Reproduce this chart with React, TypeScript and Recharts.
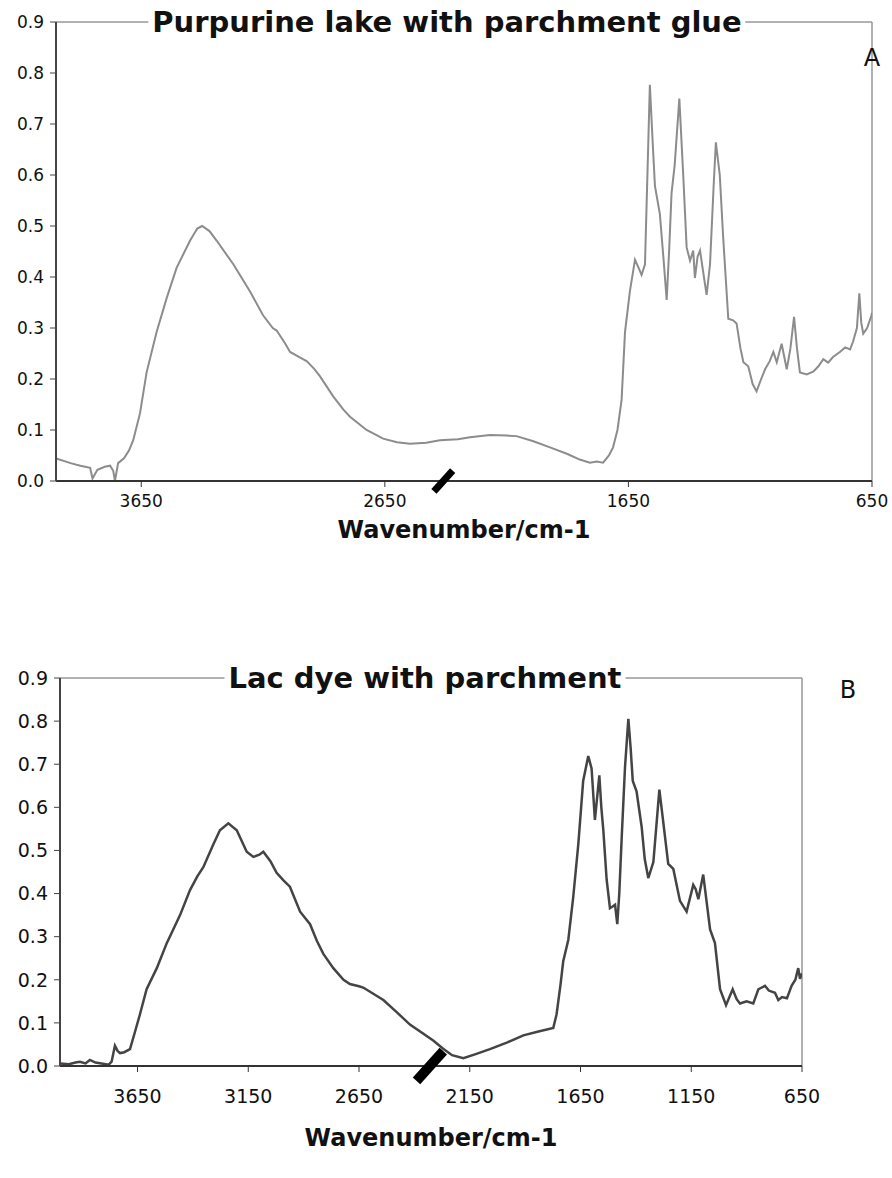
import React from 'react';
import { LineChart, Line, XAxis, YAxis, ReferenceLine, ReferenceDot, Label } from 'recharts';

// ---- Panel A: Purpurine lake with parchment glue ----
const wnA = [4000, 3940, 3900, 3860, 3850, 3830, 3800, 3778, 3765, 3758, 3745, 3720, 3700, 3683, 3655, 3628, 3587, 3546, 3505, 3450, 3420, 3400, 3370, 3340, 3272, 3204, 3150, 3110, 3094, 3060, 3039, 2990, 2971, 2940, 2916, 2862, 2820, 2793, 2725, 2657, 2600, 2547, 2480, 2424, 2350, 2300, 2218, 2150, 2109, 2040, 1972, 1900, 1850, 1808, 1780, 1754, 1730, 1713, 1695, 1678, 1664, 1644, 1623, 1610, 1596, 1582, 1572, 1562, 1550, 1541, 1521, 1505, 1493, 1483, 1473, 1460, 1441, 1425, 1411, 1397, 1384, 1377, 1366, 1356, 1340, 1329, 1315, 1300, 1291, 1275, 1261, 1240, 1220, 1206, 1190, 1178, 1158, 1140, 1124, 1105, 1089, 1070, 1055, 1041, 1021, 1000, 985, 970, 958, 946, 918, 890, 870, 850, 830, 810, 782, 760, 740, 728, 712, 702, 694, 686, 670, 652, 650];
const absA = [0.044, 0.035, 0.03, 0.026, 0.005, 0.022, 0.028, 0.03, 0.02, 0.0, 0.035, 0.045, 0.06, 0.08, 0.133, 0.213, 0.292, 0.358, 0.418, 0.471, 0.495, 0.5, 0.49, 0.471, 0.425, 0.372, 0.325, 0.3, 0.295, 0.27, 0.253, 0.24, 0.235, 0.22, 0.205, 0.166, 0.14, 0.126, 0.1, 0.083, 0.076, 0.073, 0.075, 0.08, 0.082, 0.086, 0.09, 0.089, 0.088, 0.078, 0.066, 0.053, 0.042, 0.036, 0.038, 0.036, 0.05, 0.066, 0.1, 0.159, 0.292, 0.372, 0.434, 0.42, 0.404, 0.425, 0.6, 0.777, 0.66, 0.578, 0.524, 0.43, 0.355, 0.45, 0.564, 0.62, 0.75, 0.6, 0.458, 0.432, 0.452, 0.398, 0.44, 0.452, 0.4, 0.365, 0.425, 0.58, 0.664, 0.6, 0.478, 0.318, 0.315, 0.309, 0.26, 0.233, 0.225, 0.19, 0.176, 0.2, 0.219, 0.235, 0.253, 0.233, 0.269, 0.219, 0.26, 0.322, 0.26, 0.213, 0.209, 0.215, 0.225, 0.239, 0.232, 0.243, 0.253, 0.262, 0.258, 0.273, 0.3, 0.368, 0.31, 0.289, 0.3, 0.325, 0.33];

// ---- Panel B: Lac dye with parchment ----
const wnB = [4000, 3960, 3930, 3910, 3885, 3865, 3840, 3806, 3780, 3767, 3752, 3740, 3729, 3710, 3684, 3661, 3639, 3609, 3563, 3518, 3458, 3413, 3380, 3353, 3308, 3278, 3240, 3202, 3157, 3127, 3100, 3082, 3050, 3022, 2990, 2962, 2916, 2871, 2840, 2811, 2766, 2720, 2691, 2650, 2631, 2540, 2480, 2420, 2315, 2270, 2230, 2179, 2120, 2059, 1980, 1908, 1840, 1773, 1758, 1740, 1728, 1705, 1683, 1660, 1638, 1615, 1600, 1585, 1565, 1556, 1547, 1532, 1517, 1505, 1494, 1484, 1475, 1464, 1449, 1434, 1424, 1414, 1397, 1374, 1360, 1344, 1321, 1294, 1275, 1254, 1231, 1201, 1171, 1141, 1130, 1118, 1096, 1065, 1043, 1020, 993, 963, 945, 930, 900, 870, 847, 817, 800, 772, 757, 740, 718, 697, 680, 667, 659, 650];
const absB = [0.006, 0.004, 0.008, 0.01, 0.006, 0.014, 0.008, 0.005, 0.003, 0.01, 0.047, 0.035, 0.03, 0.032, 0.039, 0.08, 0.12, 0.178, 0.227, 0.285, 0.35, 0.408, 0.44, 0.461, 0.514, 0.547, 0.563, 0.547, 0.497, 0.485, 0.49, 0.497, 0.475, 0.448, 0.43, 0.416, 0.358, 0.329, 0.29, 0.26, 0.227, 0.2, 0.19, 0.185, 0.182, 0.153, 0.125, 0.096, 0.059, 0.04, 0.025, 0.018, 0.028, 0.039, 0.055, 0.071, 0.08, 0.088, 0.12, 0.19, 0.243, 0.293, 0.391, 0.514, 0.661, 0.719, 0.69, 0.571, 0.674, 0.6, 0.547, 0.432, 0.366, 0.37, 0.374, 0.329, 0.4, 0.53, 0.694, 0.805, 0.74, 0.661, 0.637, 0.555, 0.48, 0.436, 0.473, 0.641, 0.56, 0.469, 0.457, 0.383, 0.358, 0.42, 0.41, 0.387, 0.444, 0.317, 0.285, 0.178, 0.141, 0.178, 0.155, 0.145, 0.15, 0.145, 0.178, 0.186, 0.175, 0.17, 0.153, 0.16, 0.157, 0.186, 0.2, 0.227, 0.202, 0.215];

const yTicks = [0, 0.1, 0.2, 0.3, 0.4, 0.5, 0.6, 0.7, 0.8, 0.9];
const xTicksA = [3650, 2650, 1650, 650];
const xTicksB = [3650, 3150, 2650, 2150, 1650, 1150, 650];
const titleA = 'Purpurine lake with parchment glue';
const titleB = 'Lac dye with parchment';
const xTitle = 'Wavenumber/cm-1';
const breakA = 2410;
const breakB = 2330;

const dataA = wnA.map((w, i) => ({ wn: w, a: absA[i] }));
const dataB = wnB.map((w, i) => ({ wn: w, a: absB[i] }));

const FONT = '"DejaVu Sans", Verdana, sans-serif';

const makeBreak = (len: number, thick: number) => (p: any) => {
  const { cx, cy } = p;
  if (cx == null || cy == null) return <g />;
  return (
    <rect
      x={cx - len / 2}
      y={cy - thick / 2}
      width={len}
      height={thick}
      fill="#000"
      transform={`rotate(-48 ${cx} ${cy})`}
    />
  );
};

type PanelProps = {
  data: { wn: number; a: number }[];
  top: number;
  height: number;
  margin: { top: number; right: number; left: number; bottom: number };
  yWidth: number;
  xHeight: number;
  xTicks: number[];
  tickFont: number;
  tickMargin: number;
  labelOffset: number;
  lineColor: string;
  lineWidth: number;
  breakAt: number;
  breakLen: number;
  breakThick: number;
};

function Panel(p: PanelProps) {
  return (
    <div style={{ position: 'absolute', left: 0, top: p.top }}>
      <LineChart width={892} height={p.height} data={p.data} margin={p.margin}>
        <XAxis
          dataKey="wn"
          type="number"
          domain={[650, 4000]}
          reversed
          ticks={p.xTicks}
          interval={0}
          tickSize={6}
          tickMargin={p.tickMargin}
          height={p.xHeight}
          stroke="#333"
          axisLine={{ stroke: '#333', strokeWidth: 2 }}
          tickLine={{ stroke: '#333' }}
          tick={{ fill: '#111', fontSize: p.tickFont, fontFamily: FONT }}
          allowDataOverflow
        >
          <Label
            value={xTitle}
            position="insideBottom"
            offset={p.labelOffset}
            style={{ fontSize: 24, fontWeight: 'bold', fontFamily: FONT, fill: '#111' }}
          />
        </XAxis>
        <YAxis
          type="number"
          domain={[0, 0.9]}
          ticks={yTicks}
          interval={0}
          width={p.yWidth}
          tickSize={6}
          tickMargin={6}
          tickFormatter={(v: number) => v.toFixed(1)}
          axisLine={{ stroke: '#444', strokeWidth: 2 }}
          tickLine={{ stroke: '#444' }}
          tick={{ fill: '#111', fontSize: p.tickFont, fontFamily: FONT }}
          allowDataOverflow
        />
        <ReferenceLine y={0.9} stroke="#999" strokeWidth={1.5} />
        <ReferenceLine x={650} stroke="#999" strokeWidth={1.5} />
        <Line
          type="linear"
          dataKey="a"
          stroke={p.lineColor}
          strokeWidth={p.lineWidth}
          dot={false}
          isAnimationActive={false}
        />
        <ReferenceDot
          x={p.breakAt}
          y={0}
          r={1}
          ifOverflow="visible"
          shape={makeBreak(p.breakLen, p.breakThick)}
        />
      </LineChart>
    </div>
  );
}

const titleStyle = (cx: number, cy: number): React.CSSProperties => ({
  position: 'absolute',
  left: cx,
  top: cy,
  transform: 'translate(-50%, -50%)',
  background: '#fff',
  padding: '0 4px',
  fontFamily: FONT,
  fontWeight: 'bold',
  fontSize: 29,
  lineHeight: '34px',
  whiteSpace: 'nowrap',
  color: '#111',
});

const letterStyle = (cx: number, cy: number, size: number): React.CSSProperties => ({
  position: 'absolute',
  left: cx,
  top: cy,
  transform: 'translate(-50%, -50%)',
  fontFamily: FONT,
  fontSize: size,
  color: '#111',
  whiteSpace: 'nowrap',
});

export default function App() {
  return (
    <div style={{ position: 'absolute', left: 0, top: 0, width: 892, height: 1178, background: '#fff', overflow: 'hidden' }}>
      <Panel
        data={dataA}
        top={0}
        height={551}
        margin={{ top: 22, right: 20, left: 0, bottom: 0 }}
        yWidth={56}
        xHeight={70}
        xTicks={xTicksA}
        tickFont={17}
        tickMargin={8}
        labelOffset={13}
        lineColor="#8c8c8c"
        lineWidth={2}
        breakAt={breakA}
        breakLen={28}
        breakThick={7}
      />
      <div style={titleStyle(447, 22)}>{titleA}</div>
      <div style={letterStyle(872, 58, 24)}>A</div>

      <Panel
        data={dataB}
        top={600}
        height={556}
        margin={{ top: 78, right: 90, left: 0, bottom: 0 }}
        yWidth={60}
        xHeight={90}
        xTicks={xTicksB}
        tickFont={19}
        tickMargin={18}
        labelOffset={10}
        lineColor="#444"
        lineWidth={2.5}
        breakAt={breakB}
        breakLen={40}
        breakThick={10}
      />
      <div style={titleStyle(425, 678)}>{titleB}</div>
      <div style={letterStyle(848, 690, 24)}>B</div>
    </div>
  );
}
